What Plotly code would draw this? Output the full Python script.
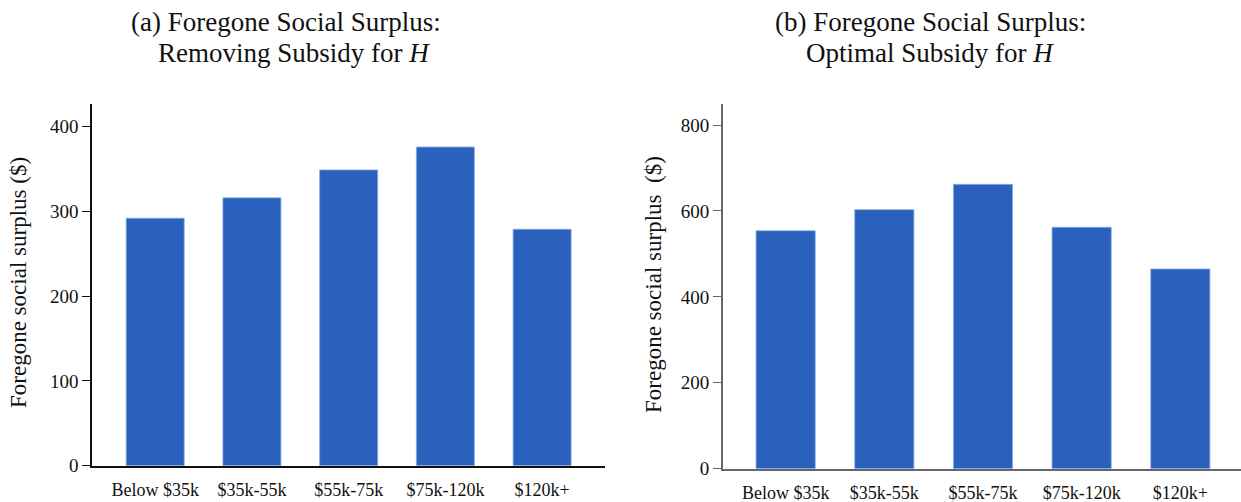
import plotly.graph_objects as go

categories = ["Below $35k", "$35k-55k", "$55k-75k", "$75k-120k", "$120k+"]
removing_values = [292, 316, 349, 376, 279]
optimal_values = [554, 603, 662, 562, 465]
left_ticks = [0, 100, 200, 300, 400]
right_ticks = [0, 200, 400, 600, 800]

W, H = 1241, 502
BAR = "rgb(41,97,189)"
EDGE = "rgb(140,175,230)"
FONT = "Liberation Serif"

fig = go.Figure()
fig.add_trace(go.Bar(x=list(range(len(categories))), y=removing_values, width=0.6,
                     marker=dict(color=BAR, line=dict(color=EDGE, width=0.8)),
                     xaxis="x", yaxis="y", showlegend=False))
fig.add_trace(go.Bar(x=list(range(len(categories))), y=optimal_values, width=0.6,
                     marker=dict(color=BAR, line=dict(color=EDGE, width=0.8)),
                     xaxis="x2", yaxis="y2", showlegend=False))

def px(v):
    return v / W

def py(v):
    return 1 - v / H

common_x = dict(tickmode="array", tickvals=list(range(len(categories))), ticktext=categories,
                showline=True, linewidth=1.8, showgrid=False, zeroline=False, automargin=False,
                ticks="outside", ticklen=7, tickcolor="rgba(0,0,0,0)",
                tickfont=dict(family=FONT, size=18, color="#111"))
common_y = dict(tickmode="array", showline=True, linewidth=1.8, showgrid=False, zeroline=False,
                automargin=False, ticks="outside", ticklen=8, tickwidth=1.3,
                tickfont=dict(family=FONT, size=19, color="#111"))

def text_ann(text, x, y, size, angle=0):
    return dict(text=text, x=px(x), y=py(y), xref="paper", yref="paper", showarrow=False,
                xanchor="center", yanchor="middle", textangle=angle,
                font=dict(family=FONT, size=size, color="#111"))

fig.update_layout(
    template="none",
    width=W, height=H, margin=dict(l=0, r=0, t=0, b=0, autoexpand=False),
    paper_bgcolor="white", plot_bgcolor="white", bargap=0.4,
    xaxis=dict(**common_x, domain=[px(92.3), px(605)], range=[-0.65, 4.65],
               linecolor="#111", anchor="y"),
    yaxis=dict(**common_y, domain=[py(465.7), py(104.3)], range=[0, 426.4],
               tickvals=left_ticks, linecolor="#111", tickcolor="#111", anchor="x"),
    xaxis2=dict(**common_x, domain=[px(723), 1.0], range=[-0.635, 4.615],
                linecolor="#666", anchor="y2"),
    yaxis2=dict(**common_y, domain=[py(468.7), py(104)], range=[0, 849],
                tickvals=right_ticks, linecolor="#666", tickcolor="#666", anchor="x2"),
    annotations=[
        text_ann("(a) Foregone Social Surplus:", 286, 22, 27),
        text_ann("Removing Subsidy for <i>H</i>", 294, 53, 27),
        text_ann("(b) Foregone Social Surplus:", 930, 22, 27),
        text_ann("Optimal Subsidy for <i>H</i>", 930, 53, 27),
        text_ann("Foregone social surplus ($)", 18, 283, 23, -90),
        text_ann("Foregone social surplus  ($)", 653, 285, 23, -90),
    ],
)

fig.write_html("out.html", config={"displayModeBar": False},
               post_script="document.body.style.margin='0';")
